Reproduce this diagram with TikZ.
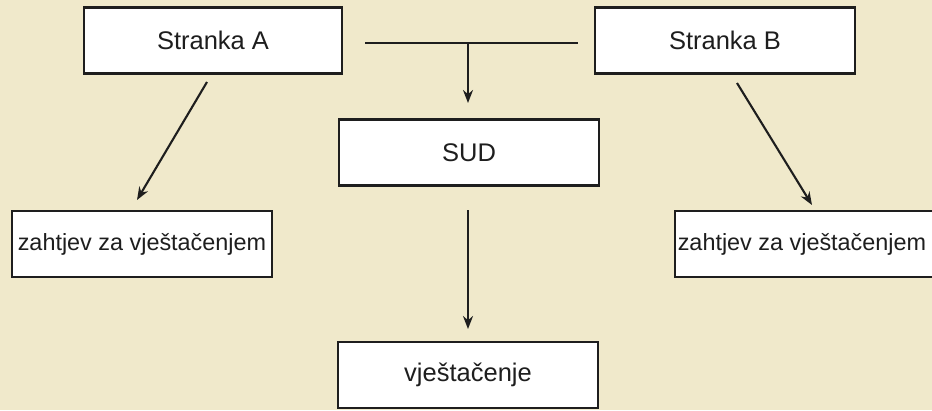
\documentclass[tikz,border=0pt]{standalone}
\usepackage{fontspec}
\setmainfont{Liberation Sans}
\usetikzlibrary{arrows.meta}
\definecolor{parch}{RGB}{240,233,203}
\definecolor{ink}{RGB}{30,30,30}
\tikzset{
  box/.style={draw=ink, line width=2.6pt, fill=white, minimum width=260pt, minimum height=66pt, inner sep=0pt, text=ink, font=\fontsize{25.5}{30}\selectfont},
  smallbox/.style={box, font=\fontsize{23.4}{28}\selectfont},
  conn/.style={draw=ink, line width=2.1pt},
  arr/.style={conn, -{Stealth[length=13pt,width=10pt]}}
}
\begin{document}
\begin{tikzpicture}[x=1pt,y=-1pt]
\useasboundingbox (0,0) rectangle (932,410);
\fill[parch] (0,0) rectangle (932,410);
\node[box, minimum width=258pt] (A) at (213,40.5) {Stranka A};
\node[box] (B) at (725,40.5) {Stranka B};
\node[box] (S) at (469,152.5) {SUD};
\node[smallbox] (L) at (142,244) {zahtjev za vještačenjem};
\node[smallbox, minimum width=262pt] (R) at (806,244) {\hspace*{-8pt}zahtjev za vještačenjem};
\node[box] (V) at (468,375) {vještačenje};
\coordinate (h1) at (365,43);
\coordinate (h2) at (578,43);
\coordinate (hm) at (468,43);
\coordinate (ht) at (468,103);
\coordinate (la) at (207,82);
\coordinate (lb) at (137,200);
\coordinate (ra) at (737,83);
\coordinate (rb) at (812,205);
\coordinate (sa) at (468,210);
\coordinate (sb) at (468,329);
\draw[conn] (h1) -- (h2);
\draw[arr] (hm) -- (ht);
\draw[arr] (la) -- (lb);
\draw[arr] (ra) -- (rb);
\draw[arr] (sa) -- (sb);
\end{tikzpicture}
\end{document}
